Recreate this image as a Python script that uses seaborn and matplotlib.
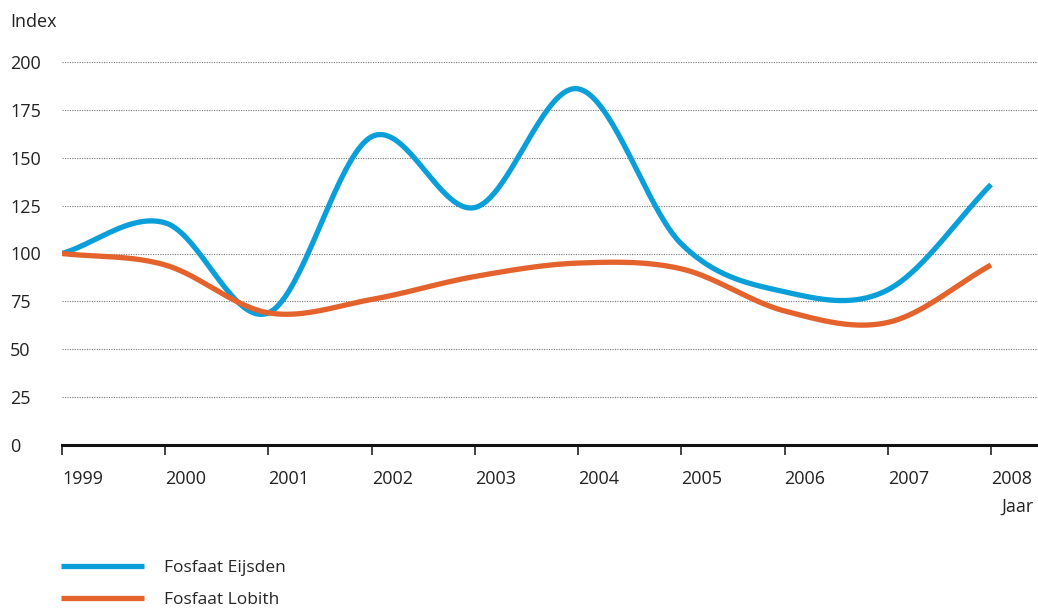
import numpy as np
import pandas as pd
import seaborn as sns
import matplotlib.pyplot as plt
from matplotlib.lines import Line2D

# data (index, 1999 = 100)
years = [1999, 2000, 2001, 2002, 2003, 2004, 2005, 2006, 2007, 2008]
eijsden = [100, 116, 69, 161, 124, 186, 105, 80, 81, 136]
lobith = [100, 94, 69, 76, 88, 95, 92, 70, 64, 94]
series_names = ["Fosfaat Eijsden", "Fosfaat Lobith"]
colors = ["#0a9fd9", "#e4622b"]


def smooth(x, y, n=40):
    # Catmull-Rom curve through the points, only used for drawing
    x = np.asarray(x, float)
    y = np.asarray(y, float)
    px = np.concatenate([[2 * x[0] - x[1]], x, [2 * x[-1] - x[-2]]])
    py = np.concatenate([[y[0]], y, [y[-1]]])
    py[0] = y[0] - (y[1] - y[0])
    py[-1] = y[-1] + (y[-1] - y[-2])
    xs, ys = [], []
    t = np.linspace(0, 1, n)
    for i in range(1, len(px) - 2):
        for p, out in ((px, xs), (py, ys)):
            p0, p1, p2, p3 = p[i - 1], p[i], p[i + 1], p[i + 2]
            m1 = (p2 - p0) / 2
            m2 = (p3 - p1) / 2
            h00 = 2 * t**3 - 3 * t**2 + 1
            h10 = t**3 - 2 * t**2 + t
            h01 = -2 * t**3 + 3 * t**2
            h11 = t**3 - t**2
            out.extend(h00 * p1 + h10 * m1 + h01 * p2 + h11 * m2)
    return np.array(xs), np.array(ys)


sns.set_style("white")
plt.rcParams['font.family'] = ['Open Sans', 'DejaVu Sans']
plt.rcParams['font.size'] = 13

fig = plt.figure(figsize=(10.38, 6.08), dpi=100)
ax = fig.add_axes([62 / 1038, 1 - 445 / 608, 1 - 62 / 1038, (445 - 62) / 608])

for name, vals, c in zip(series_names, [eijsden, lobith], colors):
    xs, ys = smooth(years, vals)
    df = pd.DataFrame({"x": xs, "y": ys})
    sns.lineplot(data=df, x="x", y="y", ax=ax, color=c, linewidth=3.8,
                 sort=False, solid_capstyle="butt", zorder=3)

ax.set_xlim(1999, 2008 + 47 / 103.2)
ax.set_ylim(0, 200)
ax.set_xlabel("")
ax.set_ylabel("")

ax.set_yticks(range(0, 201, 25))
ax.set_yticklabels([str(v) for v in range(0, 201, 25)], ha="left")
ax.tick_params(axis="y", length=0, pad=52 * 0.72, labelsize=13, colors="#222222")
for yv in range(25, 201, 25):
    ax.axhline(yv, color="#777777", linewidth=0.8, linestyle=(0, (1, 1.2)), zorder=1)

ax.set_xticks(years)
ax.set_xticklabels([str(y) for y in years], ha="left")
ax.tick_params(axis="x", length=7, width=1.2, direction="out", pad=11,
               labelsize=13, colors="#222222", bottom=True)

for s in ["top", "right", "left"]:
    ax.spines[s].set_visible(False)
ax.spines["bottom"].set_linewidth(2.2)
ax.spines["bottom"].set_color("#111111")

fig.text(10 / 1038, 1 - 22 / 608, "Index", ha="left", va="center", fontsize=13, color="#222222")
fig.text(1034 / 1038, 1 - 507 / 608, "Jaar", ha="right", va="center", fontsize=13, color="#222222")

handles = [Line2D([], [], color=c, linewidth=3.8, solid_capstyle="butt") for c in colors]
fig.legend(handles, series_names, loc="upper left",
           bbox_to_anchor=(61 / 1038, 1 - 560 / 608), frameon=False,
           handlelength=4.8, handletextpad=1.15, labelspacing=0.89,
           borderpad=0, borderaxespad=0, fontsize=12.5)

fig.savefig("out.png", dpi=100)
